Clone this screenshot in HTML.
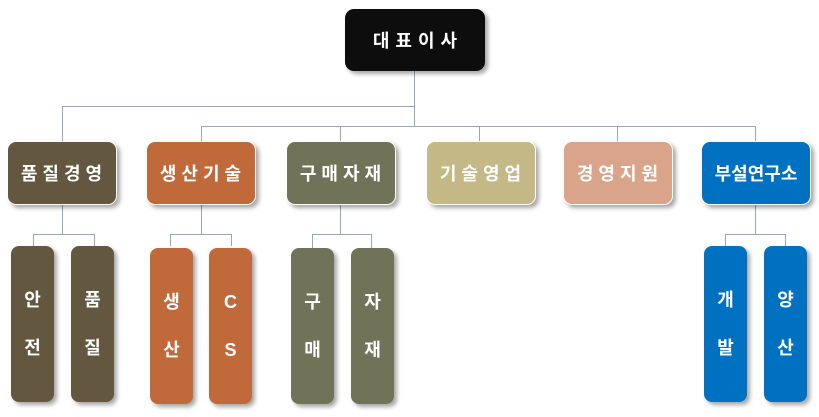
<!DOCTYPE html>
<html><head><meta charset="utf-8"><style>
body{margin:0;width:819px;height:417px;background:#fff;position:relative;overflow:hidden;font-family:"Liberation Sans","Noto Sans CJK KR","NanumGothic",sans-serif;}
.b{position:absolute;border-radius:9px;color:#fff;font-weight:bold;display:flex;align-items:center;justify-content:center;box-sizing:border-box;border:1.5px solid #fff;box-shadow:3px 3px 4px rgba(0,0,0,.35);}
.t{font-size:18px;letter-spacing:5px;height:64px;top:141px;width:110px;padding-left:4px}
.l{width:43px;height:156px;top:246px;flex-direction:column;font-size:18px;line-height:48px;border-radius:8px;border:none;}
.h{position:absolute;height:1px;background:#98a6b5}
.v{position:absolute;width:1px;background:#98a6b5}
</style></head><body>
<div class="v" style="left:414px;top:71px;height:56px"></div>
<div class="h" style="left:62px;top:106px;width:353px"></div>
<div class="h" style="left:201px;top:126px;width:555px"></div>
<div class="v" style="left:62px;top:106px;height:35px"></div>
<div class="v" style="left:201px;top:126px;height:15px"></div>
<div class="v" style="left:340px;top:126px;height:15px"></div>
<div class="v" style="left:479px;top:126px;height:15px"></div>
<div class="v" style="left:617px;top:126px;height:15px"></div>
<div class="v" style="left:755px;top:126px;height:15px"></div>
<div class="v" style="left:62px;top:205px;height:29px"></div><div class="h" style="left:33px;top:234px;width:62px"></div><div class="v" style="left:33px;top:234px;height:12px"></div><div class="v" style="left:94px;top:234px;height:12px"></div>
<div class="v" style="left:201px;top:205px;height:29px"></div><div class="h" style="left:170px;top:234px;width:62px"></div><div class="v" style="left:170px;top:234px;height:12px"></div><div class="v" style="left:231px;top:234px;height:12px"></div>
<div class="v" style="left:340px;top:205px;height:29px"></div><div class="h" style="left:312px;top:234px;width:60px"></div><div class="v" style="left:312px;top:234px;height:14px"></div><div class="v" style="left:371px;top:234px;height:14px"></div>
<div class="v" style="left:755px;top:205px;height:29px"></div><div class="h" style="left:725px;top:234px;width:61px"></div><div class="v" style="left:725px;top:234px;height:12px"></div><div class="v" style="left:785px;top:234px;height:12px"></div>

<div class="b" style="left:345px;top:9px;width:140px;height:62px;background:#0d0d0d;font-size:18px;letter-spacing:6px;padding-left:6px;border:none">대표이사</div>
<div class="b t" style="left:7px;background:#63573f">품질경영</div>
<div class="b t" style="left:146px;background:#c0693a">생산기술</div>
<div class="b t" style="left:286px;background:#707358">구매자재</div>
<div class="b t" style="left:426px;background:#c4b886">기술영업</div>
<div class="b t" style="left:563px;background:#d9a489">경영지원</div>
<div class="b t" style="left:701px;background:#0070c0;letter-spacing:0;padding-left:0">부설연구소</div>

<div class="b l" style="left:11px;background:#63573f"><span>안</span><span>전</span></div>
<div class="b l" style="left:71px;background:#63573f"><span>품</span><span>질</span></div>
<div class="b l" style="left:150px;top:248px;background:#c0693a"><span>생</span><span>산</span></div>
<div class="b l" style="left:209px;top:248px;background:#c0693a"><span>C</span><span>S</span></div>
<div class="b l" style="left:291px;top:248px;background:#707358"><span>구</span><span>매</span></div>
<div class="b l" style="left:351px;top:248px;background:#707358"><span>자</span><span>재</span></div>
<div class="b l" style="left:704px;background:#0070c0"><span>개</span><span>발</span></div>
<div class="b l" style="left:764px;background:#0070c0"><span>양</span><span>산</span></div>
</body></html>
